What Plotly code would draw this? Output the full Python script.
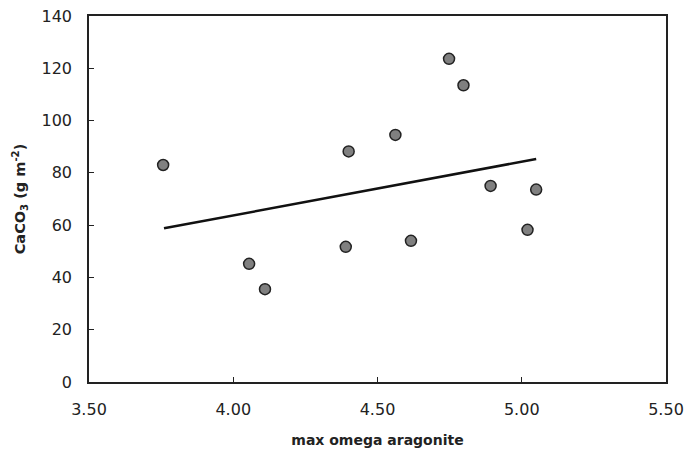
import plotly.graph_objects as go

omega = [3.757, 4.055, 4.11, 4.39, 4.40, 4.562, 4.616, 4.748, 4.798, 4.892, 5.02, 5.05]
caco3 = [83.0, 45.2, 35.5, 51.7, 88.2, 94.5, 54.0, 123.6, 113.5, 75.0, 58.2, 73.6]

trend_x = [3.76, 5.05]
trend_y = [58.8, 85.3]

x_ticks = [3.5, 4.0, 4.5, 5.0, 5.5]
x_tick_labels = ["3.50", "4.00", "4.50", "5.00", "5.50"]
y_ticks = [0, 20, 40, 60, 80, 100, 120, 140]

fig = go.Figure()
fig.add_trace(go.Scatter(
    x=trend_x, y=trend_y, mode="lines",
    line=dict(color="#111111", width=2.5), showlegend=False, hoverinfo="skip"))
fig.add_trace(go.Scatter(
    x=omega, y=caco3, mode="markers",
    marker=dict(size=11, color="#808080", line=dict(color="#222222", width=1.5)),
    showlegend=False))

font_family = "DejaVu Sans, Verdana, sans-serif"
fig.update_layout(
    width=685, height=451,
    margin=dict(l=89, r=19, t=16, b=69, autoexpand=False),
    paper_bgcolor="white", plot_bgcolor="white",
    font=dict(family=font_family, size=16, color="#222222"),
    xaxis=dict(
        range=[3.5, 5.5], tickvals=x_ticks, ticktext=x_tick_labels,
        showgrid=False, zeroline=False, showline=True, mirror=True,
        linecolor="#222222", linewidth=1.5, ticks="inside", ticklen=5,
        tickcolor="#222222", tickwidth=1, ticklabelstandoff=12, automargin=False,
        title=dict(text="<b>max omega aragonite</b>", font=dict(size=14), standoff=17),
    ),
    yaxis=dict(
        range=[0, 140], tickvals=y_ticks,
        showgrid=False, zeroline=False, showline=True, mirror=True,
        linecolor="#222222", linewidth=1.5, ticks="inside", ticklen=5,
        tickcolor="#222222", tickwidth=1, ticklabelstandoff=12, automargin=False,
        title=dict(text="<b>CaCO<sub>3</sub> (g m<sup>-2</sup>)</b>", font=dict(size=14.5), standoff=12),
    ),
)

fig.write_html("out.html")
